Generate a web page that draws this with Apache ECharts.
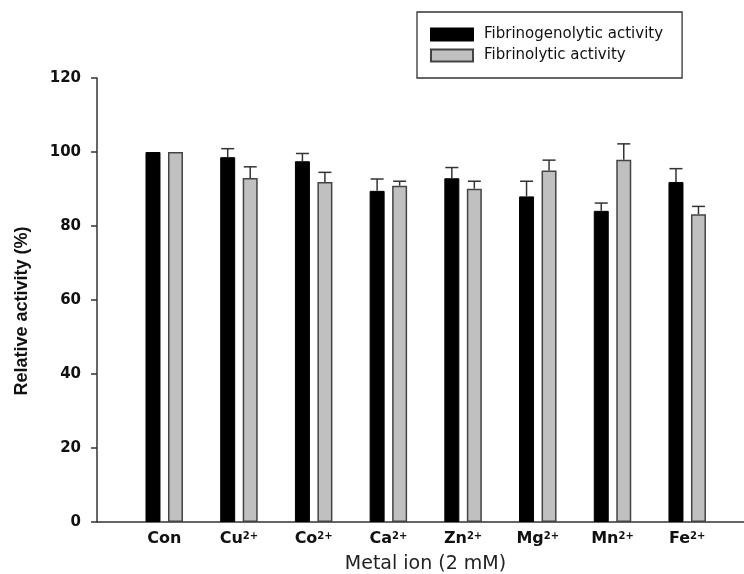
<!DOCTYPE html>
<html>
<head>
<meta charset="utf-8">
<script src="https://cdn.jsdelivr.net/npm/echarts@6/dist/echarts.min.js"></script>
<style>
html,body{margin:0;padding:0;background:#fff;}
#chart{width:744px;height:574px;}
</style>
</head>
<body>
<div id="chart"></div>
<script>
// ---- data ----
const categories = ['Con', 'Cu', 'Co', 'Ca', 'Zn', 'Mg', 'Mn', 'Fe'];
const charges = ['', '2+', '2+', '2+', '2+', '2+', '2+', '2+'];
const fibrinogenolytic = [100, 98.6, 97.5, 89.5, 92.9, 88.0, 84.1, 91.9];
const fibrinogenolyticErr = [0, 2.3, 2.1, 3.2, 2.9, 4.1, 2.1, 3.6];
const fibrinolytic = [100, 93.0, 91.9, 90.9, 90.1, 95.0, 97.9, 83.2];
const fibrinolyticErr = [0, 3.0, 2.6, 1.2, 2.0, 2.8, 4.3, 2.1];
const seriesNames = ['Fibrinogenolytic activity', 'Fibrinolytic activity'];

const positions = categories.map((c, i) => i);
const barData1 = positions.map((x, i) => [x, fibrinogenolytic[i]]);
const barData2 = positions.map((x, i) => [x, fibrinolytic[i]]);
const errData1 = positions.map((x, i) => [x, fibrinogenolytic[i], fibrinogenolyticErr[i]]);
const errData2 = positions.map((x, i) => [x, fibrinolytic[i], fibrinolyticErr[i]]);

const BAR_W = 15;
const OFFSET = 11.25;

function errRender(offset) {
  return function (params, api) {
    const x = api.value(0), v = api.value(1), e = api.value(2);
    if (!e) return;
    const p0 = api.coord([x, v]);
    const p1 = api.coord([x, v + e]);
    const cx = p0[0] + offset;
    const st = { stroke: '#333', lineWidth: 1.5 };
    return {
      type: 'group',
      children: [
        { type: 'line', shape: { x1: cx, y1: p0[1], x2: cx, y2: p1[1] }, style: st },
        { type: 'line', shape: { x1: cx - 6.5, y1: p1[1], x2: cx + 6.5, y2: p1[1] }, style: st }
      ]
    };
  };
}

const chart = echarts.init(document.getElementById('chart'));
chart.setOption({
  animation: false,
  backgroundColor: '#fff',
  grid: { left: 97, right: 0, top: 78, bottom: 52, containLabel: false, outerBoundsMode: 'none' },
  legend: {
    orient: 'vertical',
    left: 417, top: 12,
    padding: [15, 19, 15, 13],
    itemWidth: 42, itemHeight: 12, itemGap: 6,
    borderColor: '#333', borderWidth: 1.3,
    selectedMode: false,
    icon: 'rect',
    textStyle: { fontFamily: 'DejaVu Sans', fontSize: 15, color: '#111', padding: [0, 0, 0, 6] },
    data: seriesNames
  },
  xAxis: {
    type: 'value',
    min: -0.9, max: 7.76,
    splitLine: { show: false },
    axisTick: { show: false },
    axisLine: { show: true, onZero: false, lineStyle: { color: '#333', width: 1.5 } },
    axisLabel: {
      customValues: positions,
      margin: 9,
      formatter: function (v) {
        const i = Math.round(v);
        const n = categories[i];
        return charges[i] ? '{b|' + n + '}{s|' + charges[i] + '}' : '{b|' + n + '}';
      },
      rich: {
        b: { fontFamily: 'DejaVu Sans', fontWeight: 'bold', fontSize: 16, color: '#111' },
        s: { fontFamily: 'DejaVu Sans', fontWeight: 'bold', fontSize: 10, color: '#111', verticalAlign: 'top' }
      }
    },
    name: 'Metal ion (2 mM)',
    nameLocation: 'middle',
    nameGap: 33,
    nameTextStyle: { fontFamily: 'DejaVu Sans', fontSize: 19, color: '#222', padding: [0, 0, 0, 10] }
  },
  yAxis: {
    type: 'value',
    min: 0, max: 120, interval: 20,
    splitLine: { show: false },
    axisLine: { show: true, onZero: false, lineStyle: { color: '#333', width: 1.5 } },
    axisTick: { show: true, length: 6, lineStyle: { color: '#333', width: 1.5 } },
    axisLabel: { fontFamily: 'DejaVu Sans', fontWeight: 'bold', fontSize: 15, color: '#111', margin: 16 },
    name: 'Relative activity (%)',
    nameLocation: 'middle',
    nameGap: 66,
    nameTextStyle: { fontFamily: 'Liberation Sans', fontWeight: 'bold', fontSize: 18, color: '#111', padding: [0, 22, 0, 0] }
  },
  series: [
    {
      name: seriesNames[0], type: 'bar', data: barData1,
      barWidth: BAR_W,
      itemStyle: { color: '#000', borderColor: '#000', borderWidth: 1 }
    },
    {
      name: seriesNames[1], type: 'bar', data: barData2,
      barWidth: BAR_W, barGap: '50%',
      itemStyle: { color: '#c0c0c0', borderColor: '#444', borderWidth: 1.5 }
    },
    {
      type: 'custom', data: errData1, encode: { x: 0, y: 1 },
      renderItem: errRender(-OFFSET), z: 5
    },
    {
      type: 'custom', data: errData2, encode: { x: 0, y: 1 },
      renderItem: errRender(OFFSET), z: 5
    }
  ]
});
</script>
</body>
</html>
